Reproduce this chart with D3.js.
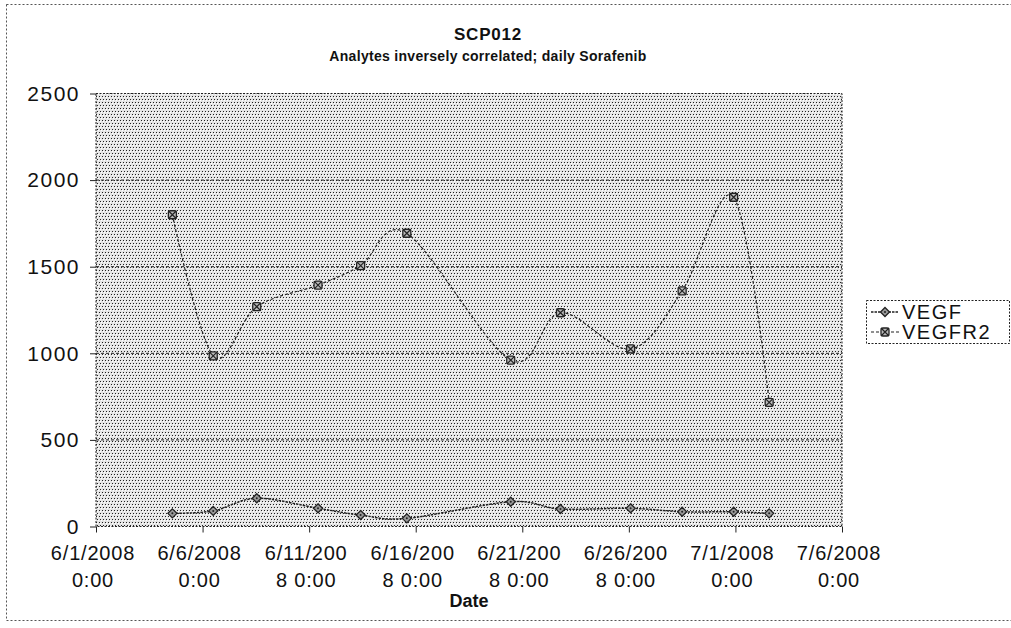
<!DOCTYPE html>
<html>
<head>
<meta charset="utf-8">
<script src="https://cdn.jsdelivr.net/npm/d3@7"></script>
<style>
  html, body { margin: 0; padding: 0; background: #fff; }
  svg text { font-family: "Liberation Sans", Arial, sans-serif; fill: #111; }
</style>
</head>
<body>
<div id="chart"></div>
<script>
// --- данные ---
const sampleDates = [
  "2008-06-04T14:00", "2008-06-06T12:00", "2008-06-08T13:00", "2008-06-11T10:00",
  "2008-06-13T10:00", "2008-06-15T14:00", "2008-06-20T11:00", "2008-06-22T19:00",
  "2008-06-26T02:00", "2008-06-28T12:00", "2008-06-30T22:00", "2008-07-02T14:00"
];
const vegf = [76, 90, 163, 105, 66, 47, 143, 101, 105, 85, 85, 76];
const vegfr2 = [1800, 985, 1269, 1394, 1506, 1693, 961, 1234, 1025, 1360, 1901, 717];

const xTickDates = ["2008-06-01", "2008-06-06", "2008-06-11", "2008-06-16",
                    "2008-06-21", "2008-06-26", "2008-07-01", "2008-07-06"];
const xTickLabels = [
  ["6/1/2008", "0:00"], ["6/6/2008", "0:00"], ["6/11/200", "8 0:00"], ["6/16/200", "8 0:00"],
  ["6/21/200", "8 0:00"], ["6/26/200", "8 0:00"], ["7/1/2008", "0:00"], ["7/6/2008", "0:00"]
];
const yTicks = [0, 500, 1000, 1500, 2000, 2500];
const seriesNames = ["VEGF", "VEGFR2"];

const W = 1011, H = 628;
const plot = { left: 96, right: 842, top: 93.5, bottom: 526.5 };
const INK = "#222";

const parse = d3.utcParse("%Y-%m-%dT%H:%M");
const parseDay = d3.utcParse("%Y-%m-%d");

const svg = d3.select("#chart").append("svg")
  .attr("width", W).attr("height", H).attr("viewBox", [0, 0, W, H]);

// растровая "штриховка" фона как на скане
const defs = svg.append("defs");
const pat = defs.append("pattern").attr("id", "dots")
  .attr("patternUnits", "userSpaceOnUse").attr("width", 6).attr("height", 6);
pat.append("rect").attr("width", 6).attr("height", 6).attr("fill", "#e4e4e4");
[[0, 0], [3, 0], [1, 3], [4, 3]].forEach(([px, py]) =>
  pat.append("rect").attr("x", px).attr("y", py).attr("width", 1).attr("height", 1).attr("fill", "#222"));
[[1, 1], [4, 1], [2, 4], [5, 4]].forEach(([px, py]) =>
  pat.append("rect").attr("x", px).attr("y", py).attr("width", 1).attr("height", 1).attr("fill", "#fff"));

// рамка всей диаграммы
svg.append("rect").attr("x", 6.5).attr("y", 4.5).attr("width", W - 6).attr("height", 616)
  .attr("fill", "none").attr("stroke", "#555").attr("stroke-dasharray", "2,2");

const x = d3.scaleUtc()
  .domain([parseDay(xTickDates[0]), parseDay(xTickDates[xTickDates.length - 1])])
  .range([plot.left, plot.right]);
const y = d3.scaleLinear().domain([0, 2500]).range([plot.bottom, plot.top]);

// область графика
svg.append("rect").attr("x", plot.left).attr("y", plot.top)
  .attr("width", plot.right - plot.left).attr("height", plot.bottom - plot.top)
  .attr("fill", "url(#dots)");

// сетка
svg.append("g").selectAll("line").data(yTicks.filter(d => d > 0 && d < 2500)).join("line")
  .attr("x1", plot.left).attr("x2", plot.right)
  .attr("y1", d => y(d)).attr("y2", d => y(d))
  .attr("stroke", INK).attr("stroke-width", 1).attr("stroke-dasharray", "3,2");

svg.append("rect").attr("x", plot.left).attr("y", plot.top)
  .attr("width", plot.right - plot.left).attr("height", plot.bottom - plot.top)
  .attr("fill", "none").attr("stroke", INK).attr("stroke-width", 1).attr("stroke-dasharray", "2,1.5");

// ось Y
const yAxis = svg.append("g").attr("transform", `translate(${plot.left},0)`)
  .call(d3.axisLeft(y).tickValues(yTicks).tickSize(6).tickPadding(10).tickFormat(d3.format("d")));
yAxis.select(".domain").remove();
yAxis.selectAll("line").attr("stroke", INK);
yAxis.selectAll("text").attr("font-size", 21).attr("letter-spacing", 1.5).attr("fill", "#111");

// ось X
const xAxis = svg.append("g").attr("transform", `translate(0,${plot.bottom})`)
  .call(d3.axisBottom(x).tickValues(xTickDates.map(parseDay)).tickSize(6).tickFormat(""));
xAxis.select(".domain").remove();
xAxis.selectAll("line").attr("stroke", INK);

const xl = svg.append("g").selectAll("text").data(xTickDates).join("text")
  .attr("x", d => x(parseDay(d)) - 3).attr("y", 560)
  .attr("text-anchor", "middle").attr("font-size", 20).attr("letter-spacing", 0.8);
xl.append("tspan").attr("x", d => x(parseDay(d)) - 3).attr("dy", 0).text((d, i) => xTickLabels[i][0]);
xl.append("tspan").attr("x", d => x(parseDay(d)) - 3).attr("dy", 27).text((d, i) => xTickLabels[i][1]);

svg.append("text").attr("x", (plot.left + plot.right) / 2).attr("y", 607)
  .attr("text-anchor", "middle").attr("font-size", 18).attr("font-weight", "bold").text("Date");

// заголовки
svg.append("text").attr("x", 488).attr("y", 40).attr("text-anchor", "middle")
  .attr("font-size", 17).attr("font-weight", "bold").attr("letter-spacing", 0.8).text("SCP012");
svg.append("text").attr("x", 488).attr("y", 61).attr("text-anchor", "middle")
  .attr("font-size", 14).attr("font-weight", "bold").attr("letter-spacing", 0.3)
  .text("Analytes inversely correlated; daily Sorafenib");

// линии (сглаженные как в Excel)
const dates = sampleDates.map(parse);
const line = d3.line().x(d => x(d[0])).y(d => y(d[1])).curve(d3.curveCardinal.tension(0));

function diamond(g) {
  g.append("path").attr("d", "M0,-4.5L4.5,0L0,4.5L-4.5,0Z")
    .attr("fill", "#999").attr("stroke", INK).attr("stroke-width", 1.3);
  g.append("circle").attr("r", 1).attr("fill", INK);
}
function xsquare(g) {
  g.append("rect").attr("x", -4).attr("y", -4).attr("width", 8).attr("height", 8).attr("rx", 2)
    .attr("fill", "#bbb").attr("stroke", INK).attr("stroke-width", 1.3);
  g.append("path").attr("d", "M-4,-4L4,4M4,-4L-4,4").attr("stroke", INK).attr("stroke-width", 1.2);
}

const series = [
  { name: seriesNames[0], values: vegf, dash: "2.5,1", width: 1.5, marker: diamond },
  { name: seriesNames[1], values: vegfr2, dash: "3,2", width: 1.2, marker: xsquare }
];

series.forEach(s => {
  const pts = dates.map((d, i) => [d, s.values[i]]);
  svg.append("path").datum(pts).attr("d", line).attr("fill", "none")
    .attr("stroke", INK).attr("stroke-width", s.width).attr("stroke-dasharray", s.dash);
  svg.append("g").selectAll("g").data(pts).join("g")
    .attr("transform", d => `translate(${x(d[0])},${y(d[1])})`)
    .each(function () { s.marker(d3.select(this)); });
});

// легенда
const lg = svg.append("g").attr("transform", "translate(866,300)");
lg.append("rect").attr("x", 0.5).attr("y", 0.5).attr("width", 143).attr("height", 43)
  .attr("fill", "#fff").attr("stroke", INK).attr("stroke-dasharray", "2,1.5");
series.forEach((s, i) => {
  const row = lg.append("g").attr("transform", `translate(0,${12 + i * 20})`);
  row.append("line").attr("x1", 5).attr("x2", 33).attr("stroke", INK)
    .attr("stroke-width", s.width).attr("stroke-dasharray", s.dash);
  const m = row.append("g").attr("transform", "translate(19,0)");
  s.marker(m);
  row.append("text").attr("x", 36).attr("y", 7).attr("font-size", 20).attr("letter-spacing", 1.5).text(s.name);
});
</script>
</body>
</html>
